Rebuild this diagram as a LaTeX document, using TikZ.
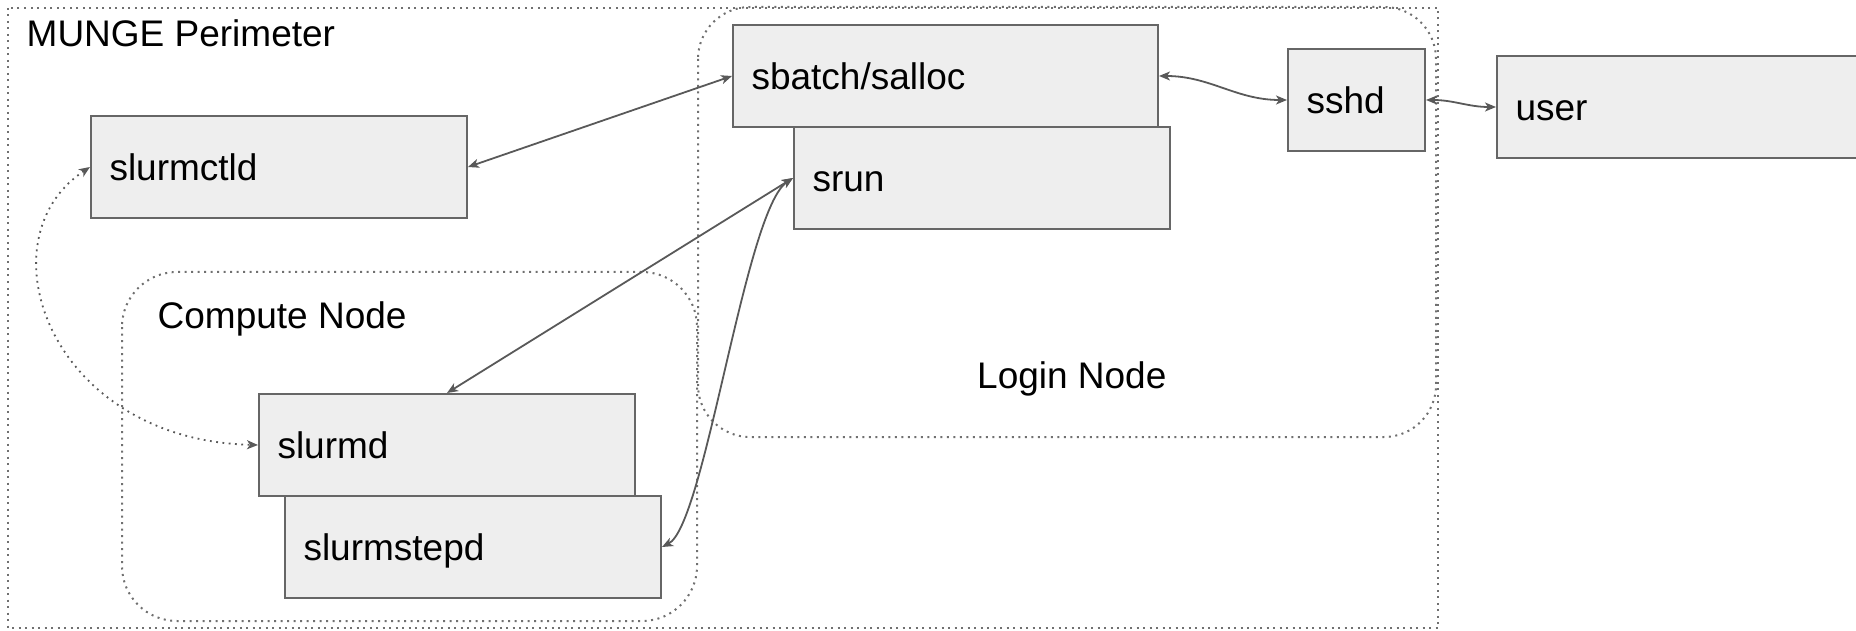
\documentclass[tikz,border=0pt]{standalone}
\usepackage{fontspec}
\setmainfont{Liberation Sans}
\usetikzlibrary{arrows.meta}
\definecolor{boxfill}{HTML}{EEEEEE}
\definecolor{boxline}{HTML}{666666}
\definecolor{arrowc}{HTML}{595959}
\definecolor{dotc}{HTML}{707070}
\begin{document}
\begin{tikzpicture}[x=1pt,y=-1pt,
  font=\fontsize{37}{44}\selectfont,
  box/.style={draw=boxline, fill=boxfill, line width=2pt, anchor=north west,
    inner xsep=18.5pt, inner ysep=0pt, text height=26.5pt, text depth=0pt,
    align=left, minimum height=102pt},
  region/.style={draw=dotc, line width=2pt, dash pattern=on 2pt off 4.5pt},
  tip/.style={Stealth[length=11pt,width=9pt,inset=3pt]},
  link/.style={draw=arrowc, line width=1.8pt, {Stealth[length=11pt,width=9pt,inset=3pt]}-{Stealth[length=11pt,width=9pt,inset=3pt]}},
  dotlink/.style={link, dash pattern=on 1.8pt off 4.5pt},
  title/.style={anchor=base west, inner sep=0pt}]
\useasboundingbox (0,0) rectangle (1856,631);
\clip (0,0) rectangle (1856,631);
% regions
\draw[region] (8,8) rectangle (1438,628);
\draw[region, rounded corners=52pt] (698,7) rectangle (1436,437);
\draw[region, rounded corners=55pt] (122,272) rectangle (697,621);
\node[title] (tmunge) at (26.5,47) {MUNGE Perimeter};
\node[title] (tcompute) at (157.5,328) {Compute Node};
\node[title] (tlogin) at (977,388) {Login Node};
% boxes
\node[box, text width=339pt] (ctld) at (90,115) {slurmctld};
\node[box, text width=388pt] (sbatch) at (732,24) {sbatch/salloc};
\node[box, text width=339pt] (srun) at (793,126) {srun};
\node[box, text width=100pt] (sshd) at (1287,48) {sshd};
\node[box, text width=400pt] (user) at (1496,55) {user};
\node[box, text width=339pt] (slurmd) at (258,393) {slurmd};
\node[box, text width=339pt] (stepd) at (284,495) {slurmstepd};
% connectors
\draw[link] (ctld.east) -- (sbatch.west);
\draw[link] (sbatch.east) to[out=0,in=180] (sshd.west);
\draw[link] (sshd.east) to[out=0,in=180] (user.west);
\draw[link] (srun.west) -- (slurmd.north);
\draw[link] (srun.west) .. controls (745,210) and (705,525) .. (stepd.east);
\draw[dotlink] (ctld.west) .. controls (-20,240) and (50,440) .. (slurmd.west);
\end{tikzpicture}
\end{document}
